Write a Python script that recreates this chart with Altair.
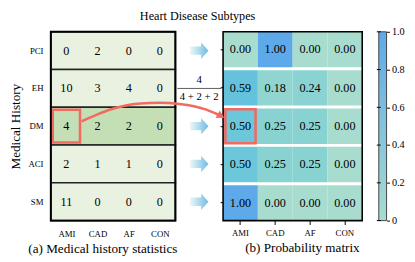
import altair as alt
import pandas as pd

# ---------------- data ----------------
rows = ["PCI", "EH", "DM", "ACI", "SM"]
cols = ["AMI", "CAD", "AF", "CON"]
counts = [
    [0, 2, 0, 0],
    [10, 3, 4, 0],
    [4, 2, 2, 0],
    [2, 1, 1, 0],
    [11, 0, 0, 0],
]
probs = [
    [0.00, 1.00, 0.00, 0.00],
    [0.59, 0.18, 0.24, 0.00],
    [0.50, 0.25, 0.25, 0.00],
    [0.50, 0.25, 0.25, 0.00],
    [1.00, 0.00, 0.00, 0.00],
]
highlight_row = "DM"
highlight_col = "AMI"
fraction_row = "EH"
arrow_rows = ["PCI", "DM", "ACI", "SM"]
# red connector, in cell units of the probability matrix (x: columns, y: rows from top)
curve_x = [-4.06, -3.64, -3.22, -2.80, -2.38, -1.82, -1.26, -0.84, -0.48, -0.20, -0.06]
curve_y = [2.37, 2.20, 2.05, 1.95, 1.90, 1.88, 1.91, 1.97, 2.06, 2.17, 2.23]
cbar_ticks = [0, 0.2, 0.4, 0.6, 0.8, 1.0]
cbar_range = [0, 1]

# ---------------- style ----------------
FONT = "Liberation Serif"
RED = "#f26b61"
C0, C1 = "#a7dccf", "#5ea9e9"
G_LIGHT, G_DARK = "#e9f1e0", "#c4dfb5"
W_A, W_M, W_B, W_C, H = 128, 49, 143, 8, 194

cells = pd.DataFrame(
    [
        {"row": r, "col": c, "count": counts[i][j], "prob": probs[i][j]}
        for i, r in enumerate(rows)
        for j, c in enumerate(cols)
    ]
)
row_df = pd.DataFrame({"row": rows, "hl": [r == highlight_row for r in rows]})
hl_df = cells[(cells.row == highlight_row) & (cells.col == highlight_col)]
one = pd.DataFrame({"k": [0]})


def frame(w, h, sw):
    return alt.Chart(one).mark_rect(fill=None, stroke="black", strokeWidth=sw).encode(
        x=alt.value(0), x2=alt.value(w), y=alt.value(0), y2=alt.value(h))


# ---------------- (a) counts ----------------
yA = alt.Y(
    "row:N", sort=rows, scale=alt.Scale(paddingInner=0, paddingOuter=0),
    axis=alt.Axis(title="Medical History", ticks=False, domain=False, labelPadding=8,
                  labelFont=FONT, labelFontSize=9, labelColor="black",
                  titleFont=FONT, titleFontSize=13.5, titleFontWeight="normal",
                  titleColor="black", titlePadding=6),
)
xA = alt.X(
    "col:N", sort=cols, scale=alt.Scale(paddingInner=0, paddingOuter=0),
    axis=alt.Axis(title="(a) Medical history statistics", labelAngle=0, ticks=False,
                  domain=False, labelPadding=9, labelFont=FONT, labelFontSize=9,
                  labelColor="black", titleFont=FONT, titleFontSize=13.5,
                  titleFontWeight="normal", titleColor="black", titlePadding=4,
                  titleX=53),
)
rowsA = alt.Chart(row_df).mark_rect(stroke="#222", strokeWidth=1.6).encode(
    y=yA,
    fill=alt.condition("datum.hl", alt.value(G_DARK), alt.value(G_LIGHT)),
)
textA = alt.Chart(cells).mark_text(font=FONT, fontSize=12.5, color="black").encode(
    x=xA, y=yA, text="count:Q"
)
boxA = alt.Chart(hl_df).mark_point(
    shape="M-1,-1.2L1,-1.2L1,1.2L-1,1.2Z", size=784, filled=False,
    stroke=RED, strokeWidth=2.6, opacity=1,
).encode(x=xA, y=yA)
panelA = alt.layer(rowsA, textA, boxA, frame(W_A, H, 2)).properties(
    width=W_A, height=H, view=alt.ViewBackground(stroke=None))

# ---------------- middle: arrows + fraction ----------------
yM = alt.Y("row:N", sort=rows, scale=alt.Scale(paddingInner=0, paddingOuter=0), axis=None)
grad = {
    "gradient": "linear", "x1": 0, "y1": 0, "x2": 1, "y2": 0,
    "stops": [{"offset": 0, "color": "#eef8f6"}, {"offset": 1, "color": "#6fbbe4"}],
}
arrows = alt.Chart(pd.DataFrame({"row": arrow_rows})).mark_point(
    shape="M-1,-0.45L0.2,-0.45L0.2,-0.9L1,0L0.2,0.9L0.2,0.45L-1,0.45Z",
    size=361, filled=True, fill=grad, strokeWidth=0, opacity=1,
).encode(y=yM)

fi = rows.index(highlight_row)
num = counts[fi][cols.index(highlight_col)]
den = " + ".join(str(v) for v in counts[fi] if v)
frac_df = pd.DataFrame({"row": [fraction_row], "num": [str(num)], "den": [den]})
numT = alt.Chart(frac_df).mark_text(font=FONT, fontSize=11, color="black", dy=-9).encode(
    y=yM, text="num:N")
denT = alt.Chart(frac_df).mark_text(font=FONT, fontSize=11, color="black", dy=9).encode(
    y=yM, text="den:N")
bar = alt.Chart(frac_df).mark_rule(color="#333", strokeWidth=0.8).encode(
    y=yM, x=alt.value(2), x2=alt.value(47))
panelM = alt.layer(arrows, bar, numT, denT).properties(
    width=W_M, height=H, view=alt.ViewBackground(stroke=None))

# ---------------- (b) probability matrix ----------------
yB = alt.Y(
    "row:N", sort=rows, scale=alt.Scale(paddingInner=0.075, paddingOuter=0),
    axis=alt.Axis(title=None, labels=False, ticks=True, tickSize=3, tickColor="black",
                  domain=False),
)
xB = alt.X(
    "col:N", sort=cols, scale=alt.Scale(paddingInner=0, paddingOuter=0),
    axis=alt.Axis(title="(b) Probability matrix", labelAngle=0, tickSize=4,
                  tickColor="black", domain=False, labelPadding=4, labelFont=FONT,
                  labelFontSize=9, labelColor="black", titleFont=FONT,
                  titleFontSize=13.5, titleFontWeight="normal", titleColor="black",
                  titlePadding=4, titleX=81),
)
heat = alt.Chart(cells).mark_rect().encode(
    x=xB, y=yB,
    fill=alt.Fill("prob:Q", scale=alt.Scale(domain=cbar_range, range=[C0, C1]), legend=None),
)
textB = alt.Chart(cells).mark_text(font=FONT, fontSize=12.5, color="black").encode(
    x=xB, y=yB, text=alt.Text("prob:Q", format=".2f"))
boxB = alt.Chart(hl_df).mark_point(
    shape="M-1,-1.13L1,-1.13L1,1.13L-1,1.13Z", size=961, filled=False,
    stroke=RED, strokeWidth=2.6, opacity=1,
).encode(x=xB, y=yB)

curve_df = pd.DataFrame({"cx": curve_x, "cy": curve_y, "i": range(len(curve_x))})
xC = alt.X("cx:Q", scale=alt.Scale(domain=[0, 4], nice=False, zero=False), axis=None)
yC = alt.Y("cy:Q", scale=alt.Scale(domain=[0, 5], nice=False, zero=False, reverse=True), axis=None)
curve = alt.Chart(curve_df).mark_line(color=RED, strokeWidth=2.6, interpolate="monotone").encode(
    x=xC, y=yC, order="i:Q")
head = alt.Chart(curve_df.tail(1)).mark_point(
    shape="triangle-right", size=80, filled=True, fill=RED, strokeWidth=0,
    opacity=1, angle=28,
).encode(x=xC, y=yC)

panelB = (
    alt.layer(alt.layer(heat, textB, frame(W_B, H, 1.6), boxB), alt.layer(curve, head))
    .resolve_scale(x="independent", y="independent")
    .properties(width=W_B, height=H, view=alt.ViewBackground(stroke=None))
)

# ---------------- colour bar ----------------
cb_grad = {
    "gradient": "linear", "x1": 0, "y1": 1, "x2": 0, "y2": 0,
    "stops": [{"offset": 0, "color": C0}, {"offset": 1, "color": C1}],
}
yCB = alt.Y(
    "lo:Q", scale=alt.Scale(domain=cbar_range, nice=False, zero=False),
    axis=alt.Axis(orient="right", title=None, values=cbar_ticks, domain=False,
                  tickSize=3, tickColor="black", tickWidth=1, labelPadding=2,
                  labelFlush=False, labelFont=FONT, labelFontSize=10.5,
                  labelColor="black", grid=False,
                  labelExpr="datum.value == 0 ? '0' : format(datum.value, '.1f')"),
)
cb_df = pd.DataFrame({"lo": [cbar_range[0]], "hi": [cbar_range[1]]})
cb_rect = alt.Chart(cb_df).mark_rect(fill=cb_grad, stroke="#444", strokeWidth=1).encode(
    y=yCB, y2="hi:Q")
cb_ticks = alt.Chart(pd.DataFrame({"lo": cbar_ticks})).mark_rule(
    color="black", strokeWidth=1).encode(y=yCB, x=alt.value(-2), x2=alt.value(2))
panelC = alt.layer(cb_rect, cb_ticks).properties(
    width=W_C, height=H, view=alt.ViewBackground(stroke=None))

main = alt.hconcat(panelA, panelM, panelB, spacing=0, bounds="flush")
chart = alt.hconcat(main, panelC, spacing=13).properties(
    title=alt.TitleParams("Heart Disease Subtypes", font=FONT, fontSize=12.5,
                          fontWeight="normal", anchor="middle", offset=5, color="black",
                          dx=-9),
    padding={"left": 0, "top": -2, "right": 2, "bottom": 0},
)

chart.save("out.html", embed_options={"renderer": "svg", "actions": False})
